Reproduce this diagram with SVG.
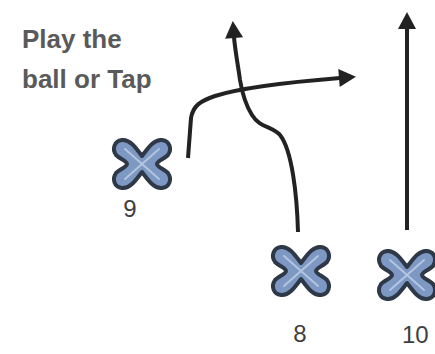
<svg xmlns="http://www.w3.org/2000/svg" width="435" height="354" viewBox="0 0 435 354">
<style>
.lbl{font-family:"Liberation Sans",Arial,sans-serif;fill:#3f3f3f}
.note{font-family:"Liberation Sans",Arial,sans-serif;font-weight:bold;font-size:26px;fill:#5a5a5a}
.num{font-size:24px}
.route{fill:none;stroke:#222;stroke-width:4;stroke-linecap:butt;stroke-linejoin:round}
.x{fill:#7d98c2;stroke:#2f3847;stroke-width:4;stroke-linejoin:round}
.xi{fill:none;stroke:#b3c5e0;stroke-width:2;stroke-linecap:round}
</style>
<defs>
<marker id="ah" markerUnits="userSpaceOnUse" markerWidth="20" markerHeight="22" viewBox="0 -11 18 22" refX="1" refY="0" orient="auto">
<path d="M0,-9 L17,0 L0,9 Z" fill="#222"/>
</marker>
<g id="cross">
<path class="x" d="M0,-8 C6,-16 12,-25 20,-24 C28,-23 30,-15 26,-9 C22,-5 15,-3 15,0 C15,3 22,5 26,9 C30,15 28,23 20,24 C12,25 6,16 0,8 C-6,16 -12,25 -20,24 C-28,23 -30,15 -26,9 C-22,5 -15,3 -15,0 C-15,-3 -22,-5 -26,-9 C-30,-15 -28,-23 -20,-24 C-12,-25 -6,-16 0,-8 Z"/>
<path class="xi" d="M-17,-15 L17,15 M17,-15 L-17,15"/>
</g>
</defs>
<rect width="435" height="354" fill="#fff"/>
<text class="note" x="22" y="48">Play the</text>
<text class="note" x="22" y="88">ball or Tap</text>
<g id="connectors">
<path class="route" marker-end="url(#ah)" d="M298,232 C297,195 292,150 280,135 C272,126 260,128 252,115 C245,104 242,92 240,80 C238,65 235,50 234,37"/>
<path class="route" marker-end="url(#ah)" d="M188,158 L191,118 C193,106 200,101 215,96 C240,88 290,82 340,78"/>
<path class="route" marker-end="url(#ah)" d="M407,230 L407,28"/>
</g>
<g id="player9">
<use href="#cross" x="142" y="164"/>
<text class="lbl num" x="130" y="217" text-anchor="middle">9</text>
</g>
<g id="player8">
<use href="#cross" x="301" y="271"/>
<text class="lbl num" x="300" y="342" text-anchor="middle">8</text>
</g>
<g id="player10">
<use href="#cross" x="407" y="275"/>
<text class="lbl num" x="402" y="343">10</text>
</g>
</svg>
